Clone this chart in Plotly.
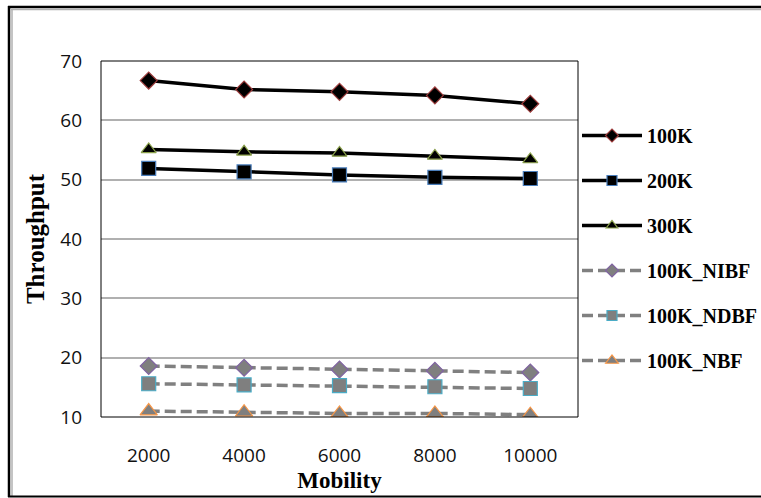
import plotly.graph_objects as go

# Mobility settings on the x axis
mobility = ["2000", "4000", "6000", "8000", "10000"]

# Throughput per configuration
tp_100k = [66.7, 65.2, 64.8, 64.2, 62.8]
tp_200k = [51.9, 51.3, 50.8, 50.4, 50.2]
tp_300k = [55.1, 54.7, 54.5, 54.0, 53.4]
tp_100k_nibf = [18.6, 18.3, 18.0, 17.8, 17.5]
tp_100k_ndbf = [15.6, 15.4, 15.3, 15.1, 14.8]
tp_100k_nbf = [11.0, 10.8, 10.6, 10.6, 10.4]

y_ticks = [10, 20, 30, 40, 50, 60, 70]

W, H = 761, 498
ML, MR, MT, MB = 101, 183, 61, 81

serif = "Liberation Serif, Times New Roman, serif"
sans = "Open Sans, Lato, sans-serif"

DASH = "11px,5px"

# name, values, dash, line colour, symbol, fill, outline, size on chart, size in legend
series = [
    ("100K", tp_100k, "solid", "black", "diamond", "black", "#9b3b3b", 13, 10),
    ("200K", tp_200k, "solid", "black", "square", "black", "#4a7ebb", 14, 10),
    ("300K", tp_300k, "solid", "black", "triangle-up", "black", "#8aa04a", 13, 10),
    ("100K_NIBF", tp_100k_nibf, DASH, "#808080", "diamond", "#7f7f7f", "#8064a2", 13, 10),
    ("100K_NDBF", tp_100k_ndbf, DASH, "#808080", "square", "#7f7f7f", "#4bacc6", 14, 10),
    ("100K_NBF", tp_100k_nbf, DASH, "#808080", "triangle-up", "#7f7f7f", "#f79646", 15, 11),
]

fig = go.Figure()
for name, vals, dash, lc, sym, fc, oc, ms, lms in series:
    fig.add_trace(go.Scatter(
        x=mobility, y=vals, name=name, mode="lines+markers",
        legendgroup=name, showlegend=False,
        line=dict(color=lc, width=3.5, dash=dash),
        marker=dict(symbol=sym, size=ms, color=fc, line=dict(color=oc, width=1.2)),
    ))
    # legend entry with a smaller marker, same styling
    fig.add_trace(go.Scatter(
        x=[None], y=[None], name=name, mode="lines+markers",
        legendgroup=name, showlegend=True,
        line=dict(color=lc, width=3.5, dash=dash),
        marker=dict(symbol=sym, size=lms, color=fc, line=dict(color=oc, width=1.2)),
    ))

pw = W - ML - MR
ph = H - MT - MB


def px_x(p):
    return (p - ML) / pw


def px_y(p):
    return (H - MB - p) / ph


shapes = [
    # plot-area frame
    dict(type="rect", xref="paper", yref="paper", x0=0, x1=1, y0=0, y1=1,
         line=dict(color="black", width=1)),
    # outer chart border
    dict(type="line", xref="paper", yref="paper", x0=px_x(8), x1=px_x(W), y0=px_y(7), y1=px_y(7),
         line=dict(color="black", width=2.5)),
    dict(type="line", xref="paper", yref="paper", x0=px_x(11), x1=px_x(W), y0=px_y(9.5), y1=px_y(9.5),
         line=dict(color="#b0b0b0", width=1.5)),
    dict(type="line", xref="paper", yref="paper", x0=px_x(9), x1=px_x(9), y0=px_y(6), y1=px_y(497),
         line=dict(color="black", width=2.5)),
    dict(type="line", xref="paper", yref="paper", x0=px_x(12), x1=px_x(12), y0=px_y(9), y1=px_y(496),
         line=dict(color="#b0b0b0", width=1.5)),
    dict(type="line", xref="paper", yref="paper", x0=px_x(8), x1=px_x(W), y0=px_y(496.5), y1=px_y(496.5),
         line=dict(color="black", width=2)),
]

fig.update_layout(
    width=W, height=H,
    margin=dict(l=ML, r=MR, t=MT, b=MB, autoexpand=False),
    paper_bgcolor="white", plot_bgcolor="white",
    shapes=shapes,
    showlegend=True,
    legend=dict(
        x=px_x(577), xanchor="left", y=px_y(116), yanchor="top",
        font=dict(family=serif, size=20, color="black", weight="bold"),
        itemwidth=60, tracegroupgap=16,
        bgcolor="rgba(0,0,0,0)",
    ),
    xaxis=dict(
        type="category", range=[-0.5, 4.5],
        showgrid=False, zeroline=False, showline=False,
        ticks="", ticklabelstandoff=25,
        tickfont=dict(family=sans, size=19, color="#111"),
        title=dict(text="Mobility", standoff=2,
                   font=dict(family=serif, size=23, color="black", weight="bold")),
    ),
    yaxis=dict(
        range=[10, 70], tickvals=y_ticks,
        showgrid=True, gridcolor="#b0b0b0", gridwidth=1.5,
        zeroline=False, showline=False,
        ticks="", ticklabelstandoff=18,
        tickfont=dict(family=sans, size=19, color="#111"),
        title=dict(text="Throughput", standoff=8,
                   font=dict(family=serif, size=25, color="black", weight="bold")),
    ),
)

fig.write_html("out.html")
